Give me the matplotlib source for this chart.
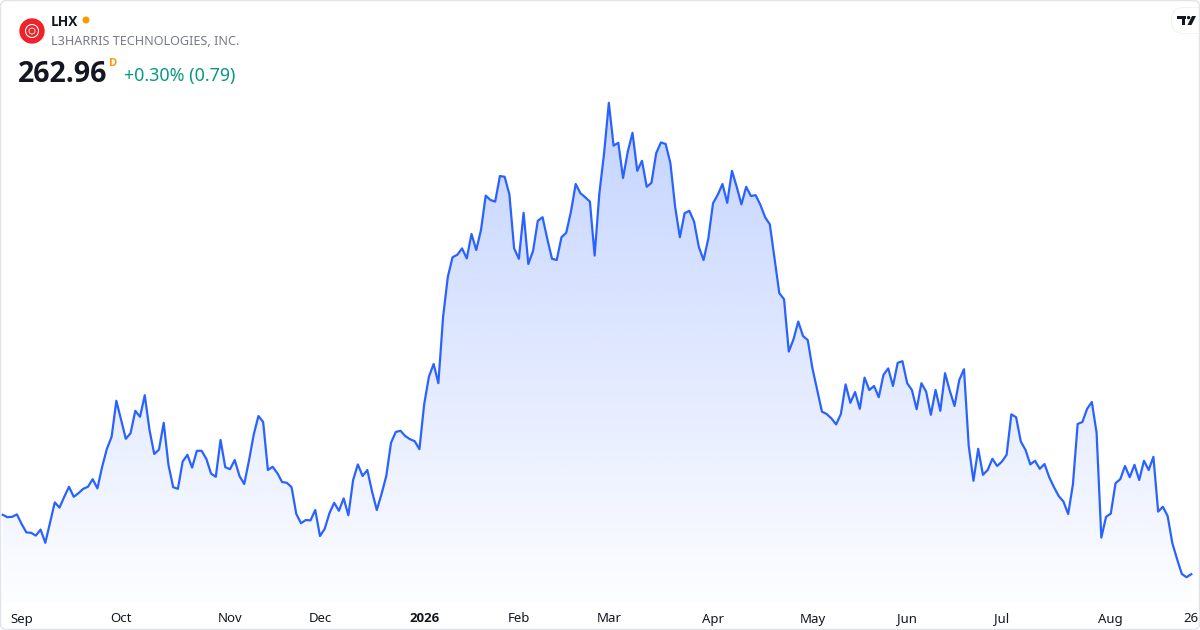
import numpy as np
import matplotlib
matplotlib.use("Agg")
import matplotlib.pyplot as plt
from matplotlib.patches import Polygon, Circle, FancyBboxPatch
from matplotlib.transforms import blended_transform_factory

plt.rcParams['font.family'] = ['Noto Sans', 'DejaVu Sans']
BOLD = ['Open Sans', 'DejaVu Sans']

# daily closes, late Aug 2025 -> late Aug 2026
closes = [
    277.8, 277.2, 277.3, 277.9, 275.5, 273.4, 273.3, 272.6, 274.1, 270.8,
    275.8, 280.9, 279.6, 282.3, 284.8, 282.3, 283.2, 284.3, 284.8, 286.7,
    284.4, 289.8, 294.3, 297.3, 306.3, 301.5, 296.8, 298.2, 303.8, 302.3,
    307.7, 299.0, 293.0, 294.1, 300.8, 290.3, 284.7, 284.3, 291.1, 292.8,
    289.6, 293.8, 293.8, 291.8, 288.1, 287.3, 296.5, 289.7, 289.2, 291.5,
    287.5, 285.5, 291.3, 297.8, 302.5, 301.0, 289.0, 289.8, 288.2, 286.0,
    285.8, 284.7, 278.0, 275.7, 276.5, 276.4, 279.0, 272.5, 274.3, 278.2,
    280.8, 278.8, 281.9, 277.7, 286.5, 290.4, 287.5, 289.0, 283.6, 279.0,
    283.0, 287.5, 295.8, 298.5, 298.8, 297.5, 296.7, 296.2, 294.2, 305.4,
    312.3, 315.5, 310.7, 327.3, 337.3, 342.2, 342.8, 344.4, 341.9, 348.0,
    344.0, 349.0, 357.6, 356.5, 356.1, 362.5, 362.3, 357.9, 344.4, 341.8,
    353.3, 340.5, 343.8, 351.3, 352.2, 346.8, 341.8, 341.5, 347.2, 348.3,
    353.6, 360.5, 358.2, 357.2, 356.1, 342.6, 358.2, 368.2, 380.8, 370.1,
    370.8, 362.0, 368.6, 373.3, 363.8, 366.3, 359.8, 360.8, 368.2, 370.9,
    370.5, 365.7, 354.8, 347.2, 353.2, 353.8, 351.1, 344.8, 341.5, 346.8,
    355.7, 357.8, 360.5, 355.8, 363.8, 359.8, 355.4, 359.8, 357.5, 357.7,
    355.3, 352.2, 350.4, 341.9, 333.2, 331.7, 318.6, 321.7, 326.1, 322.5,
    321.5, 314.4, 309.0, 303.6, 303.0, 301.9, 300.4, 303.0, 310.4, 305.8,
    308.5, 304.3, 312.1, 309.0, 310.0, 307.2, 312.8, 314.4, 310.0, 315.8,
    316.2, 310.7, 309.0, 304.2, 310.7, 308.6, 302.8, 309.0, 303.8, 313.2,
    308.8, 305.0, 311.5, 314.2, 295.0, 286.3, 294.3, 287.8, 289.0, 291.8,
    290.0, 291.1, 292.8, 302.9, 302.2, 296.1, 294.0, 290.4, 291.3, 289.3,
    290.5, 287.2, 284.7, 282.5, 281.1, 278.0, 285.4, 300.5, 301.0, 304.3,
    306.0, 298.3, 272.1, 277.3, 278.1, 285.7, 286.7, 290.0, 287.2, 290.3,
    286.5, 291.3, 289.0, 292.3, 278.6, 279.8, 277.5, 270.7, 266.7, 263.0,
    262.2, 262.96,
]
# index of the first bar of each month label
month_idx = [4, 25, 48, 67, 89, 109, 128, 150, 171, 191, 211, 234, 251]
month_labels = ["Sep", "Oct", "Nov", "Dec", "2026", "Feb", "Mar", "Apr",
                "May", "Jun", "Jul", "Aug", "26"]

ticker = "LHX"
company = "L3HARRIS TECHNOLOGIES, INC."
last_price = "262.96"
change_text = "+0.30% (0.79)"

W, H = 1200, 630
BLUE = "#2962ff"

fig = plt.figure(figsize=(12, 6.3), dpi=100)
fig.patch.set_facecolor("white")

plot_bottom = 603  # pixel row where the area ends
ax = fig.add_axes([0, (H - plot_bottom) / H, 1, plot_bottom / H])
ax.axis("off")

n = len(closes)
x = np.arange(n)
step = (1191.3 - 2.7) / (n - 1)
ax.set_xlim(-2.7 / step, n - 1 + (W - 1191.3) / step)
ylo, yhi = 255.75, 406.5
ax.set_ylim(ylo, yhi)

# gradient area under the line
grad = np.zeros((256, 1, 4))
grad[..., :3] = matplotlib.colors.to_rgb(BLUE)
grad[:, 0, 3] = np.linspace(0.01, 0.28, 256)
im = ax.imshow(grad, extent=[x[0], x[-1], ylo, max(closes)], origin="lower",
               aspect="auto", zorder=1, interpolation="bilinear")
verts = [(x[0], ylo)] + list(zip(x, closes)) + [(x[-1], ylo)]
clip = Polygon(verts, closed=True, facecolor="none", edgecolor="none")
ax.add_patch(clip)
im.set_clip_path(clip)

ax.plot(x, closes, color=BLUE, lw=1.6, zorder=3, solid_joinstyle="round")

# month labels under the area
tr = blended_transform_factory(ax.transData, fig.transFigure)
for i, lab in zip(month_idx, month_labels):
    if lab == "2026":
        ax.text(i, 1 - 622.5 / H, lab, transform=tr, ha="center",
                va="baseline", fontsize=9.5, color="#131722", clip_on=False,
                family=BOLD, fontweight="bold")
    else:
        ax.text(i, 1 - 622.5 / H, lab, transform=tr, ha="center",
                va="baseline", fontsize=9.5, color="#131722", clip_on=False)

# header
def fy(y):
    return 1 - y / H

logo = Circle((32, H - 31), 12, color="#ef2229", transform=None, zorder=5)
fig.patches.append(logo)
fig.patches.append(Circle((32, H - 31), 6.5, fill=False, ec="white", lw=0.8,
                          transform=None, zorder=6))
fig.patches.append(Circle((32, H - 31), 3, fill=False, ec="white", lw=0.6,
                          transform=None, zorder=6))
fig.text(51 / W, fy(26), ticker, fontsize=9.8, fontweight="bold",
         family=BOLD, color="#131722", va="baseline")
fig.patches.append(Circle((86, H - 20), 2.8, color="#ff9800", transform=None))
fig.text(51 / W, fy(45), company, fontsize=9.1, color="#787b86",
         va="baseline")
fig.text(18 / W, fy(81.5), last_price, fontsize=20.5, fontweight="bold",
         family=BOLD, color="#131722", va="baseline")
fig.text(108.5 / W, fy(65.5), "D", fontsize=8, fontweight="bold",
         family=BOLD, color="#ff9800", va="baseline")
fig.text(123.5 / W, fy(81.5), change_text, fontsize=12.9, color="#089981",
         va="baseline")

# TradingView badge, top right
fig.patches.append(FancyBboxPatch((1171, H - 34), 45, 27,
                                  boxstyle="round,pad=0,rounding_size=13",
                                  fc="#e9ebf0", ec="none", alpha=0.6,
                                  transform=None))
fig.patches.append(FancyBboxPatch((1172, H - 33), 44, 25,
                                  boxstyle="round,pad=0,rounding_size=12.5",
                                  fc="white", ec="none", transform=None))
tv_t = [(1177, 16), (1186, 16), (1186, 19), (1184.5, 19), (1184.5, 25),
        (1181.5, 25), (1181.5, 19), (1177, 19)]
fig.patches.append(Polygon([(a, H - b) for a, b in tv_t], closed=True,
                           fc="#131722", ec="none", transform=None))
fig.patches.append(Circle((1188.6, H - 17.6), 1.7, fc="#131722", ec="none",
                          transform=None))
tv_s = [(1192, 16), (1196, 16), (1191.5, 25), (1187.5, 25)]
fig.patches.append(Polygon([(a, H - b) for a, b in tv_s], closed=True,
                           fc="#131722", ec="none", transform=None))

# card border
fig.patches.append(FancyBboxPatch((0.5, 0.5), W - 1, H - 1,
                                  boxstyle="round,pad=0,rounding_size=6",
                                  fc="none", ec="#e0e3eb", lw=1,
                                  transform=None))

fig.savefig("out.png", dpi=100)
